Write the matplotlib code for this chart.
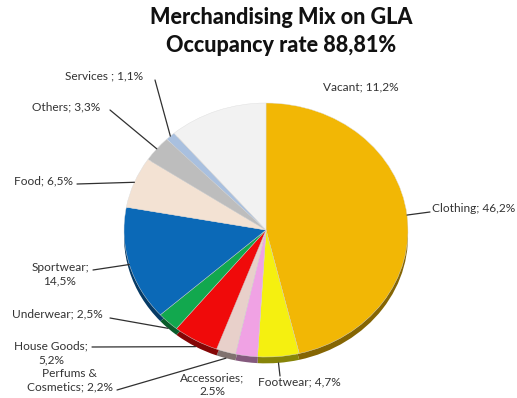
import matplotlib.pyplot as plt
import numpy as np
from matplotlib.colors import to_rgb

plt.rcParams['font.family'] = ['Lato', 'DejaVu Sans']

# merchandising mix, clockwise from 12 o'clock
categories = ['Clothing', 'Footwear', 'Accessories', 'Perfums & Cosmetics',
              'House Goods', 'Underwear', 'Sportwear', 'Food', 'Others',
              'Services', 'Vacant']
shares = [46.2, 4.7, 2.5, 2.2, 5.2, 2.5, 14.5, 6.5, 3.3, 1.1, 11.2]
label_texts = ['Clothing; 46,2%', 'Footwear; 4,7%', 'Accessories;\n2.5%',
               'Perfums &\nCosmetics; 2,2%', 'House Goods;\n5,2%',
               'Underwear; 2,5%', 'Sportwear;\n14,5%', 'Food; 6,5%',
               'Others; 3,3%', 'Services ; 1,1%', 'Vacant; 11,2%']
colors = ['#F2B705', '#F5F010', '#F0A2E4', '#E8D0CA', '#F00A0A', '#12A84E',
          '#0B69B7', '#F3E2D3', '#BDBDBD', '#A9C0DF', '#F2F2F2']

W, H = 517, 398
fig = plt.figure(figsize=(W / 100, H / 100), dpi=100)

# pie centre at (266, 230) px, radii 142 x 127 px
cx, cy, rx, ry = 266, 230, 142, 127
ax = fig.add_axes([(cx - 1.25 * rx) / W, (H - cy - 1.25 * ry) / H,
                   2.5 * rx / W, 2.5 * ry / H])

depth = 0.05
dark = [tuple(c * 0.55 for c in to_rgb(col)) for col in colors]
ax.pie(shares, colors=dark, startangle=90, counterclock=False,
       center=(0, -depth), wedgeprops=dict(linewidth=0))
wedges, _ = ax.pie(shares, colors=colors, startangle=90, counterclock=False,
                   wedgeprops=dict(linewidth=0.3, edgecolor='#dddddd'))
ax.set_aspect('auto')
ax.set_xlim(-1.25, 1.25)
ax.set_ylim(-1.25, 1.25)
ax.axis('off')

# label placement in pixels from the top-left: text x, y, alignment, leader start
layout = {
    'Clothing': (432, 209, 'left', (430, 212)),
    'Footwear': (258, 382, 'left', (280, 376)),
    'Accessories': (212, 385, 'center', None),
    'Perfums & Cosmetics': (70, 380, 'center', (117, 390)),
    'House Goods': (51, 353, 'center', (92, 347)),
    'Underwear': (12, 314, 'left', (110, 318)),
    'Sportwear': (60, 274, 'center', (93, 270)),
    'Food': (14, 181, 'left', (77, 184)),
    'Others': (32, 107, 'left', (110, 110)),
    'Services': (65, 76, 'left', (155, 80)),
    'Vacant': (323, 87, 'left', None),
}

def px(x, y):
    return x / W, (H - y) / H

for w, name, txt in zip(wedges, categories, label_texts):
    tx, ty, ha, start = layout[name]
    fig.text(*px(tx, ty), txt, ha=ha, va='center', fontsize=8.6,
             color='#333333', linespacing=1.3)
    if start is None:
        continue
    ang = np.deg2rad((w.theta1 + w.theta2) / 2)
    ex, ey = np.cos(ang), np.sin(ang)
    if ey < -0.5:
        ey -= depth
    ax.annotate('', xy=(ex, ey), xycoords='data',
                xytext=px(*start), textcoords='figure fraction',
                arrowprops=dict(arrowstyle='-', color='#303030', lw=0.9,
                                shrinkA=0, shrinkB=0))

fig.text(*px(281, 17), 'Merchandising Mix on GLA', ha='center', va='center',
         fontsize=15.5, fontweight='black', color='#111111')
fig.text(*px(281, 45), 'Occupancy rate 88,81%', ha='center', va='center',
         fontsize=15.5, fontweight='black', color='#111111')

fig.savefig('out.png', dpi=100, facecolor='white')
